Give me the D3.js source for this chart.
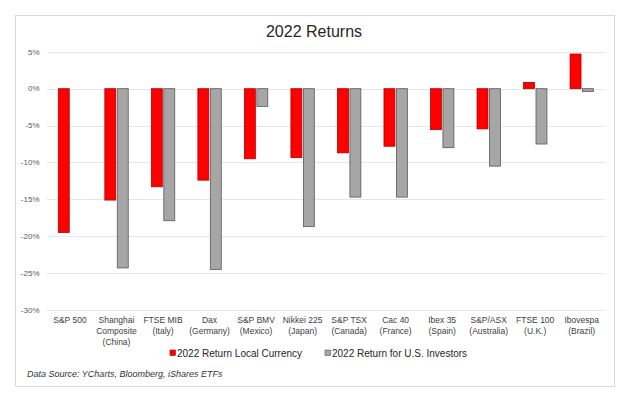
<!DOCTYPE html>
<html lang="en">
<head>
    <meta charset="UTF-8">
    <title>2022 Returns</title>
    <script src="https://d3js.org/d3.v7.min.js"></script>
    <style>
        body { margin: 0; background: #fff; }
        svg { font-family: "Liberation Sans", Arial, sans-serif; }
        .grid line { stroke: #e6e6e6; stroke-width: 1; shape-rendering: crispEdges; }
        .tick-label { font-size: 8px; fill: #595959; }
        .cat-label { font-size: 8.5px; fill: #404040; }
    </style>
</head>
<body>
    <div id="chart"></div>
    <script>
        // categories, one entry per line of the axis label
        const categories = [
            ["S&P 500"],
            ["Shanghai", "Composite", "(China)"],
            ["FTSE MIB", "(Italy)"],
            ["Dax", "(Germany)"],
            ["S&P BMV", "(Mexico)"],
            ["Nikkei 225", "(Japan)"],
            ["S&P TSX", "(Canada)"],
            ["Cac 40", "(France)"],
            ["Ibex 35", "(Spain)"],
            ["S&P/ASX", "(Australia)"],
            ["FTSE 100", "(U.K.)"],
            ["Ibovespa", "(Brazil)"]
        ];
        const localReturns = [-19.5, -15.1, -13.3, -12.4, -9.5, -9.35, -8.7, -7.8, -5.55, -5.45, 0.85, 4.7];
        const usReturns = [null, -24.3, -17.9, -24.5, -2.4, -18.7, -14.7, -14.7, -8.0, -10.5, -7.5, -0.4];
        const seriesNames = ["2022 Return Local Currency", "2022 Return for U.S. Investors"];
        const yTicks = [5, 0, -5, -10, -15, -20, -25, -30];

        const width = 624, height = 398;
        const svg = d3.select("#chart").append("svg")
            .attr("width", width)
            .attr("height", height);

        // outer frame
        svg.append("rect")
            .attr("x", 15.5).attr("y", 15.5)
            .attr("width", 599).attr("height", 371)
            .attr("fill", "#fff")
            .attr("stroke", "#d9d9d9");

        svg.append("text")
            .attr("x", 314).attr("y", 37)
            .attr("text-anchor", "middle")
            .attr("font-size", "16px")
            .attr("fill", "#262626")
            .text("2022 Returns");

        const keys = categories.map(c => c.join(" "));

        const x = d3.scaleBand()
            .domain(keys)
            .range([46.7, 605]);

        const xSub = d3.scaleBand()
            .domain([0, 1])
            .range([11.6, 35])
            .paddingInner(0.12);

        const y = d3.scaleLinear()
            .domain([-30, 5])
            .range([310, 51.8]);

        // gridlines
        svg.append("g").attr("class", "grid")
            .selectAll("line")
            .data(yTicks)
            .join("line")
            .attr("x1", 46.7).attr("x2", 605)
            .attr("y1", d => Math.round(y(d)) + 0.5)
            .attr("y2", d => Math.round(y(d)) + 0.5);

        svg.append("g")
            .selectAll("text")
            .data(yTicks)
            .join("text")
            .attr("class", "tick-label")
            .attr("x", 39.5)
            .attr("y", d => y(d))
            .attr("dy", "0.35em")
            .attr("text-anchor", "end")
            .text(d => d + "%");

        const colors = ["#ff0000", "#a6a6a6"];
        const strokes = ["#b00000", "#595959"];
        const seriesData = [localReturns, usReturns];

        seriesData.forEach((vals, s) => {
            svg.append("g")
                .selectAll("rect")
                .data(vals.map((v, i) => ({ key: keys[i], v })).filter(d => d.v !== null))
                .join("rect")
                .attr("x", d => x(d.key) + xSub(s))
                .attr("width", xSub.bandwidth())
                .attr("y", d => Math.min(y(d.v), y(0)))
                .attr("height", d => Math.abs(y(d.v) - y(0)))
                .attr("fill", colors[s])
                .attr("stroke", strokes[s])
                .attr("stroke-width", 0.8);
        });

        // category labels
        const catG = svg.append("g")
            .selectAll("text")
            .data(categories)
            .join("text")
            .attr("class", "cat-label")
            .attr("text-anchor", "middle")
            .attr("x", (d, i) => x(keys[i]) + x.bandwidth() / 2)
            .attr("y", 323);
        catG.selectAll("tspan")
            .data(d => d)
            .join("tspan")
            .attr("x", function () { return this.parentNode.getAttribute("x"); })
            .attr("dy", (d, i) => i === 0 ? 0 : 11)
            .text(d => d);

        // legend
        const legendX = [170, 325];
        const legend = svg.append("g")
            .selectAll("g")
            .data(seriesNames)
            .join("g")
            .attr("transform", (d, i) => `translate(${legendX[i]},353)`);
        legend.append("rect")
            .attr("x", 0).attr("y", -3)
            .attr("width", 5.5).attr("height", 5.5)
            .attr("fill", (d, i) => colors[i])
            .attr("stroke", (d, i) => strokes[i])
            .attr("stroke-width", 0.6);
        legend.append("text")
            .attr("x", 7).attr("y", 0)
            .attr("dy", "0.35em")
            .attr("font-size", "10px")
            .attr("fill", "#262626")
            .text(d => d);

        svg.append("text")
            .attr("x", 27).attr("y", 377)
            .attr("font-size", "9px")
            .attr("font-style", "italic")
            .attr("fill", "#333")
            .text("Data Source: YCharts, Bloomberg, iShares ETFs");
    </script>
</body>
</html>
